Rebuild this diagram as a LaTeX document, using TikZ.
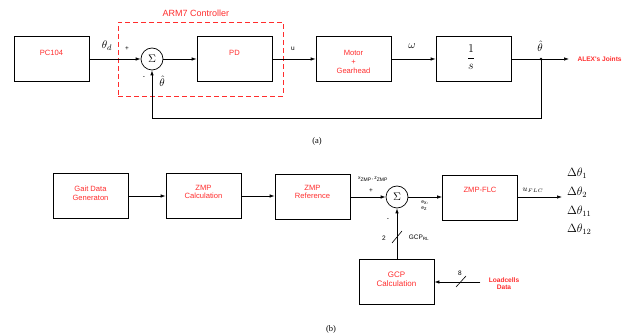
\documentclass[tikz,border=0pt]{standalone}
\usepackage{fontspec}
\setmainfont{Liberation Serif}
\newfontfamily\arialfont{Liberation Sans}
\usetikzlibrary{arrows.meta}
\definecolor{blockred}{RGB}{255,45,45}
\tikzset{
  blk/.style={draw, line width=0.7pt, minimum width=75pt, minimum height=45pt, inner sep=0pt},
  blktxt/.style={text=blockred, font=\arialfont\fontsize{7.6}{8.6}\selectfont, align=center},
  sumnode/.style={draw, circle, line width=0.7pt, minimum size=22pt, inner sep=0pt, font=\fontsize{11}{11}\selectfont},
  sig/.style={line width=0.7pt, -{Latex[length=5pt,width=3.5pt]}},
  wire/.style={line width=0.7pt},
  lbl/.style={font=\arialfont\fontsize{6.5}{7}\selectfont, inner sep=0pt},
  mlbl/.style={font=\fontsize{11}{12}\selectfont, inner sep=0pt},
  dlbl/.style={font=\fontsize{12}{13}\selectfont, inner sep=0pt, anchor=west},
  slashmark/.style={line width=0.6pt},
}
\begin{document}
\begin{tikzpicture}[x=1pt, y=-1pt]
\useasboundingbox (0,0) rectangle (634,336);

% ---------------- (a) joint control loop ----------------
\node[blk] (pc) at (51.5,58.5) {};
\node[blktxt] at (51.5,53) {PC104};
\node[draw=blockred, dashed, line width=0.8pt, dash pattern=on 5pt off 3pt,
      minimum width=165pt, minimum height=74pt, inner sep=0pt] (arm) at (200.5,59) {};
\node[text=blockred, font=\arialfont\fontsize{9}{10}\selectfont] (armlbl) at (196,13) {ARM7 Controller};
\node[sumnode] (sa) at (152,59) {$\Sigma$};
\node[blk] (pd) at (234.5,58.5) {};
\node[blktxt] at (234.5,53) {PD};
\node[blk] (mot) at (353.5,58.5) {};
\node[blktxt] at (353.5,62) {Motor\\+\\Gearhead};
\node[blk] (int) at (473.5,58.5) {};
\node[font=\fontsize{13}{14}\selectfont] at (471,57) {$\displaystyle\frac{1}{s}$};
\coordinate (tap) at (541,59);
\coordinate (outa) at (569,59);
\node[text=blockred, font=\arialfont\bfseries\fontsize{6.6}{7}\selectfont, anchor=west] (alex) at (574,59) {ALEX's Joints};

\draw[sig] (pc.east |- sa) -- (sa.west);
\draw[sig] (sa.east) -- (pd.west |- sa);
\draw[sig] (pd.east |- sa) -- (mot.west |- sa);
\draw[sig] (mot.east |- sa) -- (int.west |- sa);
\draw[wire] (int.east |- sa) -- (tap);
\draw[sig] (tap) -- (outa);
\fill (tap) circle (1.3pt);
\draw[sig] (tap) -- (541,118) -- (152,118) -- (sa.south);

\node[mlbl] at (107,46) {$\theta_d$};
\node[lbl] at (127,49) {+};
\node[lbl] at (144,78) {-};
\node[mlbl] at (162,81) {$\hat{\theta}$};
\node[lbl] at (293,49) {u};
\node[mlbl] at (412,46) {$\omega$};
\node[mlbl] at (540,46) {$\hat{\theta}$};
\node[font=\fontsize{8.5}{9}\selectfont] (capa) at (317,141) {(a)};

% ---------------- (b) ZMP balance loop ----------------
\node[blk] (gait) at (90.5,196) {};
\node[blktxt] at (90.5,193) {Gait Data\\Generaton};
\node[blk] (zc) at (203.5,196) {};
\node[blktxt] at (203.5,192) {ZMP\\Calculation};
\node[blk] (zr) at (312.5,196.5) {};
\node[blktxt] at (312.5,192) {ZMP\\Reference};
\node[sumnode] (sb) at (397,197) {$\Sigma$};
\node[blk] (flc) at (480,197.5) {};
\node[blktxt] at (480,190) {ZMP-FLC};
\node[blk] (gcp) at (396.5,281.5) {};
\node[blktxt, font=\arialfont\fontsize{8}{9}\selectfont] at (396.5,279) {GCP\\Calculation};
\coordinate (outb) at (562,197);
\node[text=blockred, font=\arialfont\bfseries\fontsize{6.6}{7.5}\selectfont, align=center] (load) at (504,283.5) {Loadcells\\Data};

\draw[sig] (gait.east |- 0,196) -- (zc.west |- 0,196);
\draw[sig] (zc.east |- 0,196) -- (zr.west |- 0,196);
\draw[sig] (zr.east |- sb) -- (sb.west);
\draw[sig] (sb.east) -- (flc.west |- sb);
\draw[sig] (flc.east |- sb) -- (outb);
\draw[sig] (gcp.north -| sb) -- (sb.south);
\draw[sig] (load.west |- 0,282) ++(-5,0) -- (gcp.east |- 0,282);

% bus width marks
\draw[slashmark] (392,243) -- (402,231);
\draw[slashmark] (456,287) -- (466,276);

\node[font=\arialfont\fontsize{5}{5.5}\selectfont, inner sep=0pt] at (373,179) {x\textsubscript{ZMP}, z\textsubscript{ZMP}};
\node[lbl] at (371,191) {+};
\node[lbl] at (388,220) {-};
\node[font=\arialfont\fontsize{5}{6}\selectfont, inner sep=0pt, align=left] at (425,206) {e\textsubscript{x},\\e\textsubscript{z}};
\node[lbl] at (384,238) {2};
\node[font=\arialfont\fontsize{6.5}{7}\selectfont, inner sep=0pt] at (419,238) {GCP\textsubscript{RL}};
\node[lbl] at (460,273) {8};
\node[font=\fontsize{8}{9}\selectfont, inner sep=0pt] at (533,190) {$u_{\scriptscriptstyle FLC}$};
\node[dlbl] at (567,173) {$\Delta\theta_1$};
\node[dlbl] at (567,192) {$\Delta\theta_2$};
\node[dlbl] at (567,211) {$\Delta\theta_{11}$};
\node[dlbl] at (567,229) {$\Delta\theta_{12}$};
\node[font=\fontsize{8.5}{9}\selectfont] (capb) at (331,329) {(b)};
\end{tikzpicture}
\end{document}
